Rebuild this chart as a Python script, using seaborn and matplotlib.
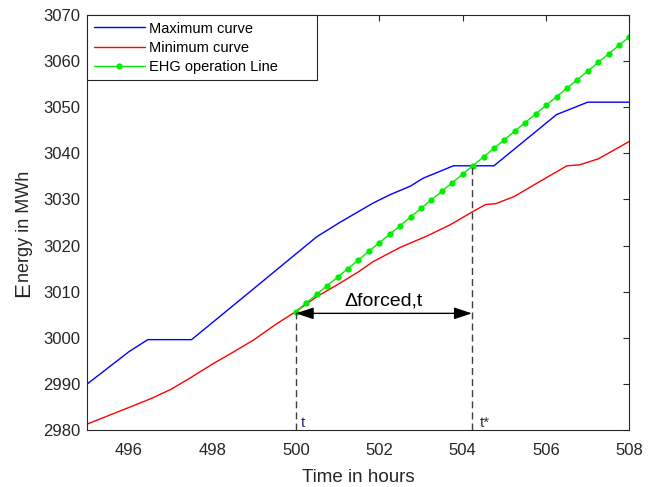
import numpy as np
import pandas as pd
import matplotlib
matplotlib.use("Agg")
import matplotlib.pyplot as plt
import seaborn as sns

# Upper storage bound (MWh) over time (h)
max_hours = [495.0, 495.5, 496.0, 496.45, 497.5, 498.7, 500.5, 501.05, 501.85,
             502.25, 502.75, 503.05, 503.78, 504.75, 506.25, 507.0, 508.0]
max_energy = [2990.0, 2993.5, 2997.0, 2999.6, 2999.6, 3008.5, 3021.9, 3025.0, 3029.2,
              3031.0, 3032.9, 3034.6, 3037.3, 3037.3, 3048.4, 3051.1, 3051.1]

# Lower storage bound (MWh) over time (h)
min_hours = [495.0, 495.5, 496.0, 496.55, 497.0, 497.45, 498.0, 498.5, 499.0,
             499.5, 500.0, 500.5, 501.05, 501.5, 501.85, 502.5, 503.15, 503.7,
             504.25, 504.55, 504.8, 505.25, 505.85, 506.5, 506.8, 507.25, 508.0]
min_energy = [2981.3, 2983.1, 2984.9, 2986.9, 2988.8, 2991.2, 2994.3, 2996.9, 2999.6,
              3002.8, 3005.7, 3008.9, 3011.8, 3014.3, 3016.5, 3019.6, 3022.1, 3024.5,
              3027.4, 3028.9, 3029.1, 3030.7, 3033.9, 3037.3, 3037.5, 3038.8, 3042.6]

# EHG operation line, sampled every quarter hour
ehg_hours = [500.0, 500.25, 500.5, 500.75, 501.0, 501.25, 501.5, 501.75, 502.0,
             502.25, 502.5, 502.75, 503.0, 503.25, 503.5, 503.75, 504.0, 504.25,
             504.5, 504.75, 505.0, 505.25, 505.5, 505.75, 506.0, 506.25, 506.5,
             506.75, 507.0, 507.25, 507.5, 507.75, 508.0]
ehg_energy = [3005.70, 3007.56, 3009.43, 3011.29, 3013.15, 3015.01, 3016.88, 3018.74,
              3020.60, 3022.46, 3024.33, 3026.19, 3028.05, 3029.91, 3031.78, 3033.64,
              3035.50, 3037.36, 3039.23, 3041.09, 3042.95, 3044.81, 3046.68, 3048.54,
              3050.40, 3052.26, 3054.13, 3055.99, 3057.85, 3059.71, 3061.58, 3063.44,
              3065.30]

# Forced interval: start t and end t*
t_start, e_start = 500.0, 3005.7
t_end, e_end = 504.22, 3037.3

x_ticks = [496, 498, 500, 502, 504, 506, 508]
y_ticks = list(range(2980, 3071, 10))

sns.set_theme(style="white")
plt.rcParams["font.family"] = ["Liberation Sans", "DejaVu Sans"]
dark = "#262626"

fig = plt.figure(figsize=(6.56, 4.87), dpi=100)
ax = fig.add_axes([0.1331, 0.1170, 0.8265, 0.8522])

sns.lineplot(x=max_hours, y=max_energy, color="#0000ff", linewidth=1.0,
             estimator=None, label="Maximum curve", ax=ax)
sns.lineplot(x=min_hours, y=min_energy, color="#ff0000", linewidth=1.0,
             estimator=None, label="Minimum curve", ax=ax)
sns.lineplot(x=ehg_hours, y=ehg_energy, color="#00ee00", linewidth=1.0,
             marker="o", markersize=4.5, markeredgewidth=0, markerfacecolor="#00ee00",
             estimator=None, label="EHG operation Line", ax=ax)

# Dashed markers for t and t*
ax.plot([t_start, t_start], [2980, e_start], ls=(0, (5, 3)), color="#404040", lw=1.0)
ax.plot([t_end, t_end], [2980, e_end], ls=(0, (5, 3)), color="#404040", lw=1.0)

# Double-headed arrow spanning the forced interval
ax.annotate("", xy=(t_end, 3005.3), xytext=(t_start, 3005.3),
            arrowprops=dict(arrowstyle="<|-|>,head_length=0.9,head_width=0.3",
                            color="black", lw=1.0, shrinkA=0, shrinkB=0))
ax.text((t_start + t_end) / 2, 3007.1, "\u0394forced,t", fontsize=14,
        ha="center", va="baseline", color="black")
ax.text(t_start + 0.12, 2980.7, "t", fontsize=11, color="#2a2a7a", va="baseline")
ax.text(t_end + 0.18, 2980.7, "t*", fontsize=11, color="#333333", va="baseline")

ax.set_xlim(495, 508)
ax.set_ylim(2980, 3070)
ax.set_xticks(x_ticks)
ax.set_yticks(y_ticks)
ax.tick_params(direction="in", length=4, width=0.8, colors=dark, labelsize=12,
               top=True, right=True, labelcolor=dark)
ax.tick_params(axis="x", pad=9)
ax.tick_params(axis="y", pad=5)
for s in ax.spines.values():
    s.set_visible(True)
    s.set_color(dark)
    s.set_linewidth(0.8)

ax.set_xlabel("Time in hours", fontsize=13.5, color=dark, labelpad=8)
ax.set_ylabel("")

leg = ax.legend(loc="upper left", bbox_to_anchor=(0, 0, 0.424, 1), mode="expand",
                borderaxespad=0, frameon=True, fancybox=False, framealpha=1,
                edgecolor=dark, fontsize=10.5, handlelength=3.5, handletextpad=0.25,
                labelspacing=0.35, borderpad=0.45, numpoints=1)
leg.get_frame().set_linewidth(0.8)
for txt in leg.get_texts():
    txt.set_color("black")

# Y label with an enlarged leading capital
fig.canvas.draw()
renderer = fig.canvas.get_renderer()
bx, by = 29 / 656, 1 - 297 / 487
cap = fig.text(bx, by, "E", fontsize=16, rotation=90, rotation_mode="anchor",
               ha="left", va="baseline", color=dark)
bb = cap.get_window_extent(renderer)
fig.text(bx, by + bb.height / fig.bbox.height, "nergy in MWh", fontsize=13,
         rotation=90, rotation_mode="anchor", ha="left", va="baseline", color=dark)

fig.savefig("out.png", dpi=100)
